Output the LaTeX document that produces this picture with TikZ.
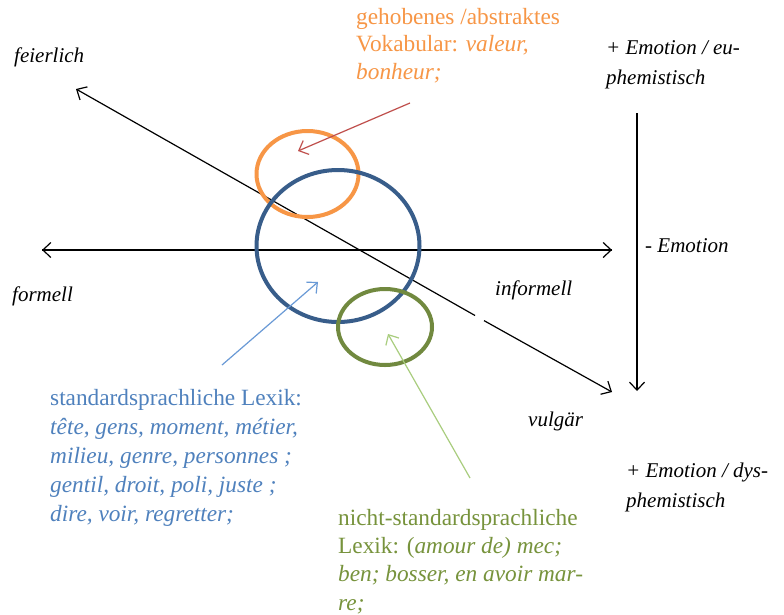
\documentclass[tikz,border=0pt]{standalone}
\usepackage{fontspec}
\setmainfont{Liberation Serif}
\usetikzlibrary{arrows.meta,shapes.geometric}
\definecolor{orangeT}{HTML}{F79646}
\definecolor{orangeC}{HTML}{F79646}
\definecolor{blueT}{HTML}{4F81BD}
\definecolor{blueC}{HTML}{385D8A}
\definecolor{blueA}{HTML}{6A9AD6}
\definecolor{greenT}{HTML}{77933C}
\definecolor{greenC}{HTML}{71893F}
\definecolor{greenA}{HTML}{A9CD7E}
\definecolor{redA}{HTML}{C0504D}
\tikzset{
  axis/.style={line width=1.2pt, -{Straight Barb[length=8pt,width=15pt]}},
  pointer/.style={line width=1.2pt, -{Straight Barb[length=8pt,width=15pt]}},
  ring/.style={line width=4pt, ellipse, inner sep=0pt},
  lbl/.style={font=\fontsize{21}{29}\selectfont\itshape, inner sep=0pt, anchor=base west},
  side/.style={font=\fontsize{21}{30}\selectfont\itshape, inner sep=0pt, anchor=north west, align=left},
  para/.style={font=\fontsize{23.3}{29}\selectfont, inner sep=0pt, anchor=north west, align=left},
}
\begin{document}
\begin{tikzpicture}[x=1pt,y=-1pt]
\useasboundingbox[fill=white] (0,0) rectangle (784,614);

% axes
\coordinate (hL) at (42,250);
\coordinate (hR) at (612,250);
\draw[axis] (hR) -- (hL);
\draw[axis] (hL) -- (hR);
\coordinate (dA) at (76,89);
\coordinate (dB) at (612,392);
\coordinate (g1) at (475,315.5);
\coordinate (g2) at (484,320.6);
\draw[line width=1.2pt, {Straight Barb[length=8pt,width=15pt]}-] (dA) -- (g1);
\draw[axis] (g2) -- (dB);
\coordinate (vT) at (637,113);
\coordinate (vB) at (637,391);
\draw[axis] (vT) -- (vB);

% rings
\node[ring, draw=orangeC, minimum width=102pt, minimum height=86pt] (oc) at (307.5,174) {};
\node[ring, draw=blueC, minimum width=163pt, minimum height=152pt] (bc) at (338,246) {};
\node[ring, draw=greenC, minimum width=94pt, minimum height=76pt] (gc) at (385,327) {};

% pointers
\coordinate (rS) at (410,103);
\coordinate (rE) at (298,151);
\draw[pointer, redA] (rS) -- (rE);
\coordinate (bS) at (222,365);
\coordinate (bE) at (318,282);
\draw[pointer, blueA] (bS) -- (bE);
\coordinate (gS) at (470,478);
\coordinate (gE) at (388,334);
\draw[pointer, greenA] (gS) -- (gE);

% axis labels
\node[lbl] (feierlich) at (14,62) {feierlich};
\node[lbl] (formell) at (12,301) {formell};
\node[lbl] (informell) at (495,295) {informell};
\node[lbl] (vulgaer) at (528,426) {vulgär};
\node[lbl] (minus) at (645,252) {- Emotion};
\node[side] (eu) at (606,40) {+ Emotion / eu-\\phemistisch};
\node[side] (dys) at (626,463) {+ Emotion / dys-\\phemistisch};

% word-class descriptions
\node[para, font=\fontsize{23.3}{27.5}\selectfont, text=orangeT] (otext) at (356,8) {gehobenes /abstraktes\\Vokabular: \textit{valeur,}\\\textit{bonheur;}};
\node[para, text=blueT] (btext) at (50,389) {standardsprachliche Lexik:\\\textit{tête, gens, moment, métier,}\\\textit{milieu, genre, personnes ;}\\\textit{gentil, droit, poli, juste ;}\\\textit{dire, voir, regretter;}};
\node[para, font=\fontsize{23.3}{28.3}\selectfont, text=greenT] (gtext) at (338,509) {nicht-standardsprachliche\\Lexik: (\textit{amour de) mec;}\\\textit{ben; bosser, en avoir mar-}\\\textit{re;}};
\end{tikzpicture}
\end{document}
